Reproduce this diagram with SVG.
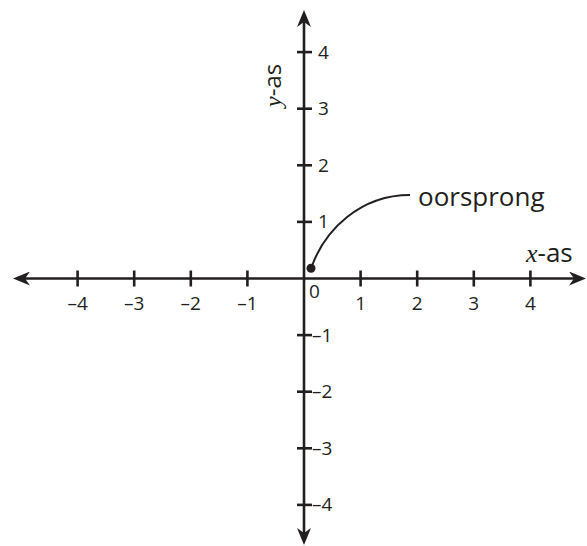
<svg xmlns="http://www.w3.org/2000/svg" width="587" height="546" viewBox="0 0 587 546">
<style>
.ax{stroke:#231f20;stroke-width:2.6;fill:none}
.tk{stroke:#231f20;stroke-width:2.6}
.num{font-family:"Open Sans","Noto Sans",sans-serif;font-size:19px;fill:#231f20}
.xl{text-anchor:middle}
.lbl{font-family:"Open Sans","Noto Sans",sans-serif;font-size:24px;fill:#231f20}
.big{font-size:26px}
.var{font-family:"Liberation Serif",serif;font-style:italic}
</style>
<defs>
<marker id="arr" viewBox="0 0 17 14" refX="5" refY="7" markerWidth="17" markerHeight="14" markerUnits="userSpaceOnUse" orient="auto-start-reverse">
<path d="M0,0 L17,7 L0,14 L5,7 Z" fill="#231f20"/>
</marker>
</defs>
<rect width="587" height="546" fill="#ffffff"/>
<g id="connectors">
<line id="x-axis" class="ax" x1="25" y1="278.5" x2="574" y2="278.5" marker-start="url(#arr)" marker-end="url(#arr)"/>
<line id="y-axis" class="ax" x1="304" y1="533" x2="304" y2="22" marker-start="url(#arr)" marker-end="url(#arr)"/>
<path id="origin-leader" class="ax" style="stroke-width:2" d="M312,266 C325,230 360,195 410,195"/>
</g>
<g id="x-ticks">
<line class="tk" x1="77.6" y1="270.5" x2="77.6" y2="286.5"/>
<line class="tk" x1="134.2" y1="270.5" x2="134.2" y2="286.5"/>
<line class="tk" x1="190.8" y1="270.5" x2="190.8" y2="286.5"/>
<line class="tk" x1="247.4" y1="270.5" x2="247.4" y2="286.5"/>
<line class="tk" x1="360.6" y1="270.5" x2="360.6" y2="286.5"/>
<line class="tk" x1="417.2" y1="270.5" x2="417.2" y2="286.5"/>
<line class="tk" x1="473.8" y1="270.5" x2="473.8" y2="286.5"/>
<line class="tk" x1="530.4" y1="270.5" x2="530.4" y2="286.5"/>
</g>
<g id="y-ticks">
<line class="tk" x1="297" y1="52.1" x2="312" y2="52.1"/>
<line class="tk" x1="297" y1="108.7" x2="312" y2="108.7"/>
<line class="tk" x1="297" y1="165.3" x2="312" y2="165.3"/>
<line class="tk" x1="297" y1="221.9" x2="312" y2="221.9"/>
<line class="tk" x1="297" y1="335.1" x2="312" y2="335.1"/>
<line class="tk" x1="297" y1="391.7" x2="312" y2="391.7"/>
<line class="tk" x1="297" y1="448.3" x2="312" y2="448.3"/>
<line class="tk" x1="297" y1="504.9" x2="312" y2="504.9"/>
</g>
<g id="x-labels">
<text class="num xl" x="77.6" y="310">–4</text>
<text class="num xl" x="134.2" y="310">–3</text>
<text class="num xl" x="190.8" y="310">–2</text>
<text class="num xl" x="247.4" y="310">–1</text>
<text class="num" x="309" y="298">0</text>
<text class="num xl" x="360.6" y="310">1</text>
<text class="num xl" x="417.2" y="310">2</text>
<text class="num xl" x="473.8" y="310">3</text>
<text class="num xl" x="530.4" y="310">4</text>
</g>
<g id="y-labels">
<text class="num" x="318" y="58.6">4</text>
<text class="num" x="318" y="115.2">3</text>
<text class="num" x="318" y="171.8">2</text>
<text class="num" x="318" y="228.4">1</text>
<text class="num" x="312" y="341.6">–1</text>
<text class="num" x="312" y="398.2">–2</text>
<text class="num" x="312" y="454.8">–3</text>
<text class="num" x="312" y="511.4">–4</text>
</g>
<g id="x-axis-label">
<text class="lbl big" x="526" y="262"><tspan class="var">x</tspan>-as</text>
</g>
<g id="y-axis-label">
<text class="lbl" transform="translate(281,107) rotate(-90)"><tspan class="var">y</tspan>-as</text>
</g>
<g id="origin">
<circle cx="311" cy="268.3" r="4.5" fill="#231f20"/>
<text class="lbl big" x="418" y="205.5">oorsprong</text>
</g>
</svg>
